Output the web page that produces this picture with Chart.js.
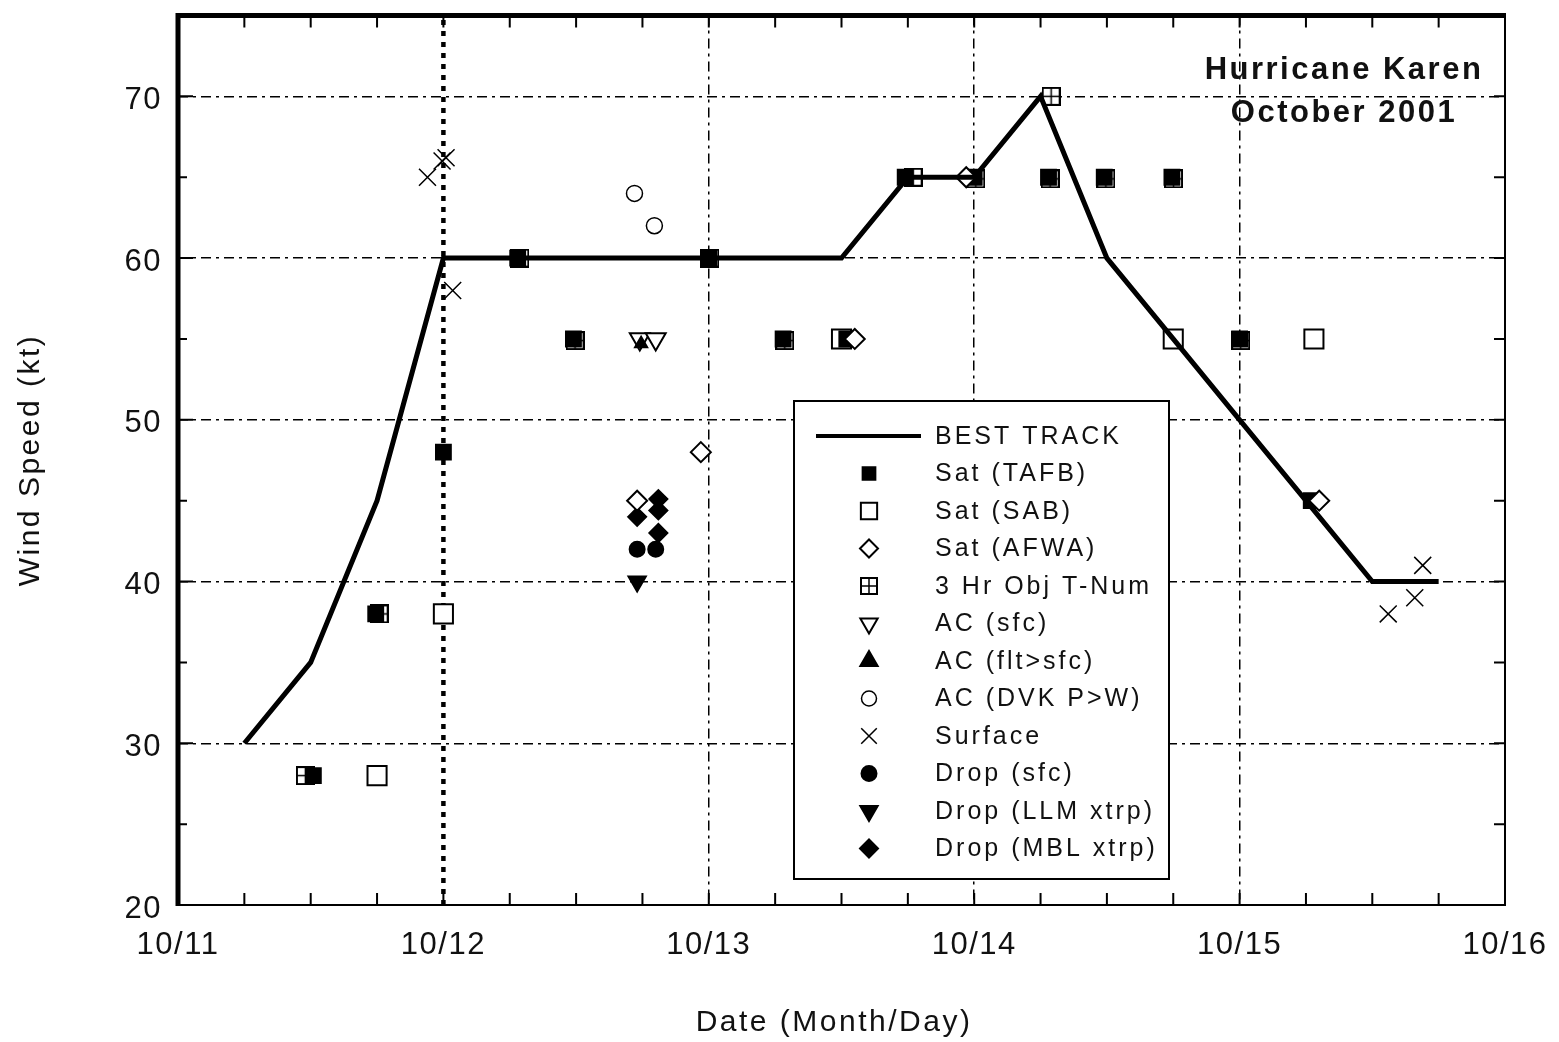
<!DOCTYPE html>
<html>
<head>
<meta charset="utf-8">
<title>Hurricane Karen - October 2001</title>
<script src="https://cdn.jsdelivr.net/npm/chart.js@4.4.1/dist/chart.umd.min.js"></script>
<style>
  html, body { margin: 0; padding: 0; background: #fff; }
</style>
</head>
<body>
<canvas id="wind-chart" width="1559" height="1042"></canvas>
<script>
// x values are days after 10/11 00Z, y values are wind speed in kt
const dayLabels = ['10/11', '10/12', '10/13', '10/14', '10/15', '10/16'];

const trackDays  = [0.25, 0.5, 0.75, 1.0, 1.25, 1.5, 1.75, 2.0, 2.25, 2.5, 2.75, 3.0, 3.25, 3.5, 3.75, 4.0, 4.25, 4.5, 4.75];
const trackWinds = [30, 35, 45, 60, 60, 60, 60, 60, 60, 60, 65, 65, 70, 60, 55, 50, 45, 40, 40];

const tafbDays  = [0.51, 0.745, 1.0, 1.28, 1.49, 2.0, 2.28, 2.52, 2.74, 3.0, 3.28, 3.49, 3.745, 4.0, 4.27];
const tafbWinds = [28, 38, 48, 60, 55, 60, 55, 55, 65, 65, 65, 65, 65, 55, 45];

const sabDays  = [0.75, 1.0, 2.5, 3.75, 4.28];
const sabWinds = [28, 38, 55, 55, 55];

const afwaDays  = [1.73, 1.97, 2.55, 2.97, 4.3];
const afwaWinds = [45, 48, 55, 65, 45];

const objDays  = [0.48, 0.758, 1.288, 1.496, 2.004, 2.286, 2.77, 3.006, 3.29, 3.286, 3.496, 3.751, 4.004];
const objWinds = [28, 38, 60, 54.9, 60, 54.9, 65, 64.9, 70, 64.9, 64.9, 64.9, 54.9];

const acSfcDays  = [1.74, 1.80];
const acSfcWinds = [55, 55];

const acFltDays  = [1.745];
const acFltWinds = [54.7];

const dvkDays  = [1.72, 1.795];
const dvkWinds = [64, 62];

const sfcDays  = [0.94, 0.995, 1.01, 1.035, 4.56, 4.66, 4.69];
const sfcWinds = [65, 66, 66.2, 58, 38, 39, 41];

const dropSfcDays  = [1.73, 1.80];
const dropSfcWinds = [42, 42];

const dropLlmDays  = [1.73];
const dropLlmWinds = [40];

const dropMblDays  = [1.73, 1.81, 1.81, 1.81];
const dropMblWinds = [44, 45.1, 44.4, 43];

// heavy dotted marker line at 10/12
const markDays  = [1, 1];
const markWinds = [20, 75];

function pairs(xs, ys) {
    return xs.map((x, i) => ({x: x, y: ys[i]}));
}

// square with a cross inside, for the 3 Hr Obj T-Num symbol
function gridBox(size) {
    const c = document.createElement('canvas');
    c.width = size;
    c.height = size;
    const g = c.getContext('2d');
    g.fillStyle = '#fff';
    g.fillRect(0, 0, size, size);
    g.strokeStyle = '#000';
    g.lineWidth = 2;
    g.strokeRect(1, 1, size - 2, size - 2);
    g.lineWidth = 1.5;
    g.beginPath();
    g.moveTo(size / 2, 1);
    g.lineTo(size / 2, size - 1);
    g.moveTo(1, size / 2);
    g.lineTo(size - 1, size / 2);
    g.stroke();
    return c;
}

function markers(label, xs, ys, style, fill, radius, extra) {
    return Object.assign({
        label: label,
        data: pairs(xs, ys),
        pointStyle: style,
        pointRadius: radius,
        pointBackgroundColor: fill,
        pointBorderColor: '#000',
        pointBorderWidth: 2,
        showLine: false,
        order: 3
    }, extra || {});
}

const datasets = [
    {
        label: 'BEST TRACK',
        data: pairs(trackDays, trackWinds),
        showLine: true,
        borderColor: '#000',
        borderWidth: 5,
        pointRadius: 0,
        tension: 0,
        order: 0
    },
    markers('Sat (TAFB)', tafbDays, tafbWinds, 'rect', '#000', 10.5, {order: 2, legendRadius: 9}),
    markers('Sat (SAB)', sabDays, sabWinds, 'rect', '#fff', 13.5, {order: 3, legendRadius: 11.5}),
    markers('Sat (AFWA)', afwaDays, afwaWinds, 'rectRot', '#fff', 10, {order: 1, legendRadius: 9}),
    markers('3 Hr Obj T-Num', objDays, objWinds, gridBox(19), '#fff', 10, {order: 4, legendStyle: gridBox(18)}),
    markers('AC (sfc)', acSfcDays, acSfcWinds, 'triangle', '#fff', 11.5, {rotation: 180, order: 3, legendRadius: 10}),
    markers('AC (flt>sfc)', acFltDays, acFltWinds, 'triangle', '#000', 7, {order: 2, legendRadius: 10}),
    markers('AC (DVK P>W)', dvkDays, dvkWinds, 'circle', '#fff', 8, {pointBorderWidth: 1.5, order: 3, legendRadius: 7.5}),
    markers('Surface', sfcDays, sfcWinds, 'crossRot', '#000', 12, {pointBorderWidth: 1.5, order: 1, legendRadius: 11}),
    markers('Drop (sfc)', dropSfcDays, dropSfcWinds, 'circle', '#000', 7.5, {order: 2, legendRadius: 7.5}),
    markers('Drop (LLM xtrp)', dropLlmDays, dropLlmWinds, 'triangle', '#000', 10, {rotation: 180, order: 2, legendRadius: 10}),
    markers('Drop (MBL xtrp)', dropMblDays, dropMblWinds, 'rectRot', '#000', 9, {order: 2, legendRadius: 9}),
    {
        data: pairs(markDays, markWinds),
        showLine: true,
        borderColor: '#000',
        borderWidth: 4.5,
        borderDash: [5, 6],
        pointRadius: 0,
        order: 10
    }
];

const frameAndLegend = {
    id: 'frameAndLegend',
    beforeDraw(chart) {
        chart.ctx.letterSpacing = '1.5px';
    },
    afterDraw(chart) {
        const ctx = chart.ctx;
        const area = chart.chartArea;
        const xs = chart.scales.x;
        const ys = chart.scales.y;
        ctx.save();
        ctx.strokeStyle = '#000';
        ctx.setLineDash([]);

        // inner ticks
        ctx.lineWidth = 2;
        ctx.beginPath();
        xs.ticks.forEach(t => {
            const px = xs.getPixelForValue(t.value);
            ctx.moveTo(px, area.bottom);
            ctx.lineTo(px, area.bottom - 12);
            ctx.moveTo(px, area.top);
            ctx.lineTo(px, area.top + 12);
        });
        ys.ticks.forEach(t => {
            const py = ys.getPixelForValue(t.value);
            const len = t.value % 10 === 0 ? 15 : 9;
            ctx.moveTo(area.left, py);
            ctx.lineTo(area.left + len, py);
            ctx.moveTo(area.right, py);
            ctx.lineTo(area.right - 11, py);
        });
        ctx.stroke();

        // frame: heavy left and top, light right and bottom
        ctx.lineWidth = 2;
        ctx.beginPath();
        ctx.moveTo(area.right, area.top);
        ctx.lineTo(area.right, area.bottom);
        ctx.lineTo(area.left, area.bottom);
        ctx.stroke();
        ctx.lineWidth = 5;
        ctx.beginPath();
        ctx.moveTo(area.left, area.bottom + 1);
        ctx.lineTo(area.left, area.top);
        ctx.lineTo(area.right + 1, area.top);
        ctx.stroke();

        // storm name
        ctx.fillStyle = '#111';
        ctx.font = "bold 31px 'Liberation Sans', Arial, sans-serif";
        ctx.letterSpacing = '2.5px';
        ctx.textAlign = 'center';
        ctx.textBaseline = 'middle';
        ctx.fillText('Hurricane Karen', 1344, 70);
        ctx.fillText('October 2001', 1344, 113);

        // axis titles
        ctx.font = "30px 'Liberation Sans', Arial, sans-serif";
        ctx.letterSpacing = '2.5px';
        ctx.fillText('Date (Month/Day)', 834, 1023);
        ctx.save();
        ctx.translate(31, 460);
        ctx.rotate(-Math.PI / 2);
        ctx.fillText('Wind Speed (kt)', 0, 0);
        ctx.restore();

        // legend box
        const box = {left: 794, top: 401, right: 1169, bottom: 879};
        ctx.fillStyle = '#fff';
        ctx.fillRect(box.left, box.top, box.right - box.left, box.bottom - box.top);
        ctx.lineWidth = 2;
        ctx.strokeRect(box.left, box.top, box.right - box.left, box.bottom - box.top);

        ctx.font = "25px 'Liberation Sans', Arial, sans-serif";
        ctx.letterSpacing = '3px';
        ctx.textAlign = 'left';
        let rowY = 436;
        chart.data.datasets.forEach(ds => {
            if (!ds.label) return;
            if (ds.pointRadius === 0) {
                ctx.lineWidth = 4;
                ctx.beginPath();
                ctx.moveTo(816, rowY);
                ctx.lineTo(921, rowY);
                ctx.stroke();
            } else {
                ctx.fillStyle = ds.pointBackgroundColor;
                ctx.strokeStyle = ds.pointBorderColor;
                ctx.lineWidth = ds.pointBorderWidth;
                Chart.helpers.drawPoint(ctx, {
                    pointStyle: ds.legendStyle || ds.pointStyle,
                    rotation: ds.rotation || 0,
                    radius: ds.legendRadius || ds.pointRadius,
                    borderWidth: ds.pointBorderWidth
                }, 869, rowY);
            }
            ctx.fillStyle = '#111';
            ctx.strokeStyle = '#000';
            ctx.fillText(ds.label, 935, rowY + 1);
            rowY += 37.5;
        });
        ctx.restore();
        ctx.letterSpacing = '0px';
    }
};

Chart.defaults.font.family = "'Liberation Sans', Arial, sans-serif";
Chart.defaults.color = '#111';

const windChart = new Chart(document.querySelector('#wind-chart').getContext('2d'), {
    type: 'scatter',
    data: {datasets: datasets},
    options: {
        responsive: false,
        animation: false,
        events: [],
        layout: {padding: {top: 10, right: 54, left: 0, bottom: 0}},
        plugins: {
            legend: {display: false},
            tooltip: {enabled: false}
        },
        scales: {
            x: {
                type: 'linear',
                min: 0,
                max: 5,
                afterFit(scale) {
                    scale.height = 137;
                    scale.paddingLeft = 0;
                    scale.paddingRight = 0;
                },
                ticks: {
                    stepSize: 0.25,
                    autoSkip: false,
                    maxRotation: 0,
                    padding: 22,
                    font: {size: 31},
                    callback: v => Number.isInteger(v) ? dayLabels[v] : ''
                },
                grid: {
                    drawTicks: false,
                    lineWidth: 1.5,
                    color: c => (c.tick && Number.isInteger(c.tick.value) && c.tick.value > 1 && c.tick.value < 5) ? '#000' : 'rgba(0,0,0,0)'
                },
                border: {display: false, dash: [10, 5, 3, 5]}
            },
            y: {
                type: 'linear',
                min: 20,
                max: 75,
                afterFit(scale) {
                    scale.width = 178;
                    scale.paddingTop = 0;
                    scale.paddingBottom = 0;
                },
                ticks: {
                    stepSize: 5,
                    padding: 16,
                    labelOffset: 4,
                    font: {size: 31},
                    callback: v => v % 10 === 0 ? String(v) : ''
                },
                grid: {
                    drawTicks: false,
                    lineWidth: 1.5,
                    color: c => (c.tick && c.tick.value % 10 === 0 && c.tick.value > 20) ? '#000' : 'rgba(0,0,0,0)'
                },
                border: {display: false, dash: [10, 5, 3, 5]}
            }
        }
    },
    plugins: [frameAndLegend]
});
</script>
</body>
</html>
